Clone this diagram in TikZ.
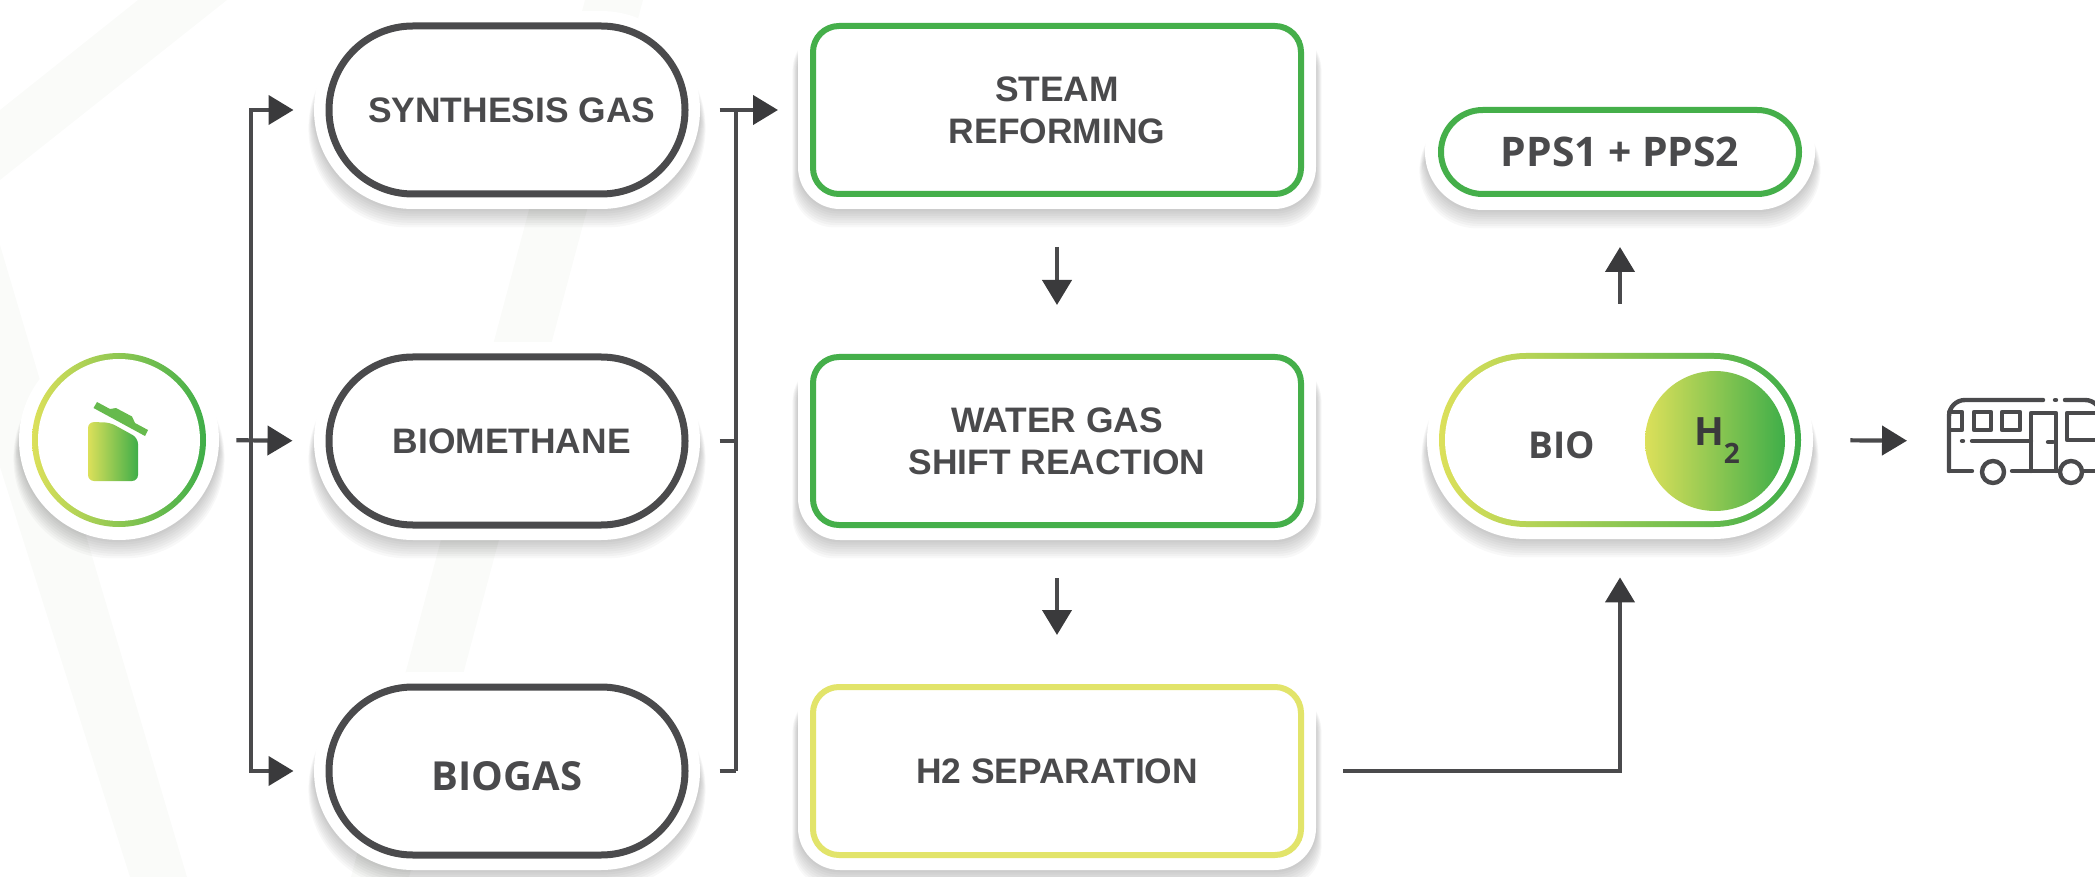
\documentclass[tikz,border=0pt]{standalone}
\usepackage{fontspec}
\setmainfont{Liberation Sans}
\newfontfamily\altf{Open Sans}
\usetikzlibrary{arrows.meta}
\definecolor{ink}{HTML}{4A4A4C}
\definecolor{tip}{HTML}{3A3A3C}
\definecolor{leaf}{HTML}{45AF4A}
\definecolor{lime}{HTML}{E2E46A}
\definecolor{ramp0}{HTML}{DCE05A}
\definecolor{ramp1}{HTML}{3FAE49}
\definecolor{stripe}{HTML}{FAFBF9}
\newcommand{\softshadow}[5]{% cx cy halfw halfh radius (outer halo)
  \foreach \k in {1,...,8}{
    \fill[black,opacity=.028,rounded corners=#5*0.5pt]
      ({#1-#3-\k*0.7},{#2-#4+18}) rectangle ({#1+#3+\k*0.7},{#2+#4+\k*2.3});
  }
  \fill[white,rounded corners=#5*0.5pt] ({#1-#3},{#2-#4}) rectangle ({#1+#3},{#2+#4});
}
\tikzset{
  x=0.5pt,y=-0.5pt,
  lbl/.style={font=\fontsize{17.7}{21}\selectfont\bfseries,text=ink,align=center,inner sep=0pt},
  pill/.style={lbl,draw=ink,fill=white,line width=3.5pt,minimum width=178pt,minimum height=84pt,rounded corners=41.9pt},
  procbox/.style={lbl,draw=#1,fill=white,line width=3pt,minimum width=244pt,minimum height=84pt,rounded corners=13pt},
  smallpill/.style={draw=leaf,fill=white,line width=3pt,minimum width=179pt,minimum height=42pt,rounded corners=20.9pt,inner sep=0pt,text=ink},
  rampfill/.style={left color=ramp0,right color=ramp1,draw=none},
  flow/.style={draw=ink,line width=2.1pt,-{Triangle[length=12.5pt,width=14.5pt,color=tip]}},
  plain/.style={draw=ink,line width=2.1pt},
  busline/.style={draw=ink,line width=2.2pt,line cap=round,line join=round},
}
\begin{document}
\begin{tikzpicture}
\useasboundingbox (0,0) rectangle (2095,877);
\clip (0,0) rectangle (2095,877);
% faint background stripes
\fill[stripe] (138,0) -- (227,0) -- (0,180) -- (0,110) -- cycle;
\fill[stripe] (585,0) -- (643,0) -- (409,877) -- (351,877) -- cycle;
\fill[stripe] (0,245) -- (187,877) -- (130,877) -- (0,467) -- cycle;
% shadows and halos
\softshadow{119}{440}{100}{100}{100}
\softshadow{507}{110}{193}{99}{99}
\softshadow{507}{441}{193}{99}{99}
\softshadow{507}{771}{193}{99}{99}
\softshadow{1057}{110}{259}{99}{42}
\softshadow{1057}{441}{259}{99}{42}
\softshadow{1057}{771}{259}{99}{42}
\softshadow{1620}{152}{195}{58}{58}
\softshadow{1620}{440}{193}{99}{99}
% source disc with gradient ring
\node[circle,rampfill,minimum size=87pt,inner sep=0pt] (binring) at (119,440) {};
\node[circle,fill=white,minimum size=81pt,inner sep=0pt] (bin) at (119,440) {};
\shade[left color=ramp0,right color=ramp1,rounded corners=3pt]
  (88,422) -- (110,422.5) -- (138,438) -- (138,481) -- (88,481) -- cycle;
\fill[ramp1!75!ramp0,line join=round]
  (93.5,408) -- (97,402) -- (110,409) -- (116,408) -- (132,416.5) -- (135,423) -- (148,430) -- (145,436) -- cycle;
% gas pills
\node[pill] (syn) at (507,110) {\hspace*{4.7pt}SYNTHESIS GAS};
\node[pill] (bio) at (507,441) {\hspace*{4.7pt}BIOMETHANE};
\node[pill,font=\altf\fontsize{20}{24}\selectfont\bfseries] (gas) at (507,771) {\raisebox{-9.6pt}[0pt][0pt]{BIOGAS}};
% process boxes
\node[procbox=leaf] (steam) at (1057,110) {STEAM\\REFORMING};
\node[procbox=leaf] (shift) at (1057,441) {WATER GAS\\SHIFT REACTION};
\node[procbox=lime] (sep) at (1057,771) {H2 SEPARATION};
% products
\node[smallpill,font=\altf\fontsize{20.4}{24}\selectfont\bfseries] (pps) at (1620,152) {PPS1 + PPS2};
\node[rampfill,minimum width=181pt,minimum height=87pt,rounded corners=43.4pt,inner sep=0pt] (bioring) at (1620,440) {};
\node[fill=white,minimum width=175pt,minimum height=81pt,rounded corners=40.4pt,inner sep=0pt] (biofuel) at (1620,440) {};
\node[text=ink,font=\altf\fontsize{18.5}{22}\selectfont\bfseries,inner sep=0pt] (biotxt) at (1562,445) {BIO};
\node[circle,rampfill,minimum size=70pt,inner sep=0pt,text=tip,font=\altf\fontsize{19.5}{23}\selectfont\bfseries] (hydro) at (1715,441)
  {\hspace*{2pt}H\raisebox{-9pt}{\fontsize{14}{16}\selectfont 2}};
% bus icon
\coordinate (bus) at (1947,441);
\begin{scope}[busline]
  \draw (1949,471) -- (1949,416) arc[start angle=180,end angle=90,radius=8pt] -- (2043,400);
  \draw (2055,400) -- (2056,400);
  \draw (2065,400) -- (2085,400) arc[start angle=90,end angle=0,radius=8pt] -- (2101,471);
  \draw (1949,471) -- (1972,471);
  \draw (2012,471) -- (2060,471);
  \draw (2082,471) -- (2101,471);
  \draw (1993,472) circle[radius=5.5pt];
  \draw (2071,472) circle[radius=5.5pt];
  \draw (1949,412) rectangle (1962,430);
  \draw (1974,412) rectangle (1991,430);
  \draw (2002,412) rectangle (2020,430);
  \draw (2031,471) -- (2031,413) -- (2056,413) -- (2056,471);
  \draw (2048,442) -- (2053,442);
  \draw (2101,413) -- (2067,413) -- (2067,440) -- (2101,440);
  \draw (1962,441) -- (1963,441);
  \draw (1972,441) -- (2031,441);
\end{scope}
% connectors
\coordinate (ltrunk) at (251,441);
\coordinate (rtrunk) at (736,441);
\draw[plain] (ltrunk |- syn) -- (ltrunk |- gas);
\draw[flow,shorten >=16pt] (ltrunk) |- (syn.west);
\draw[flow,shorten >=16pt] (ltrunk) |- (gas.west);
\draw[flow,shorten <=15pt,shorten >=16.5pt] (binring.east) -- (bio.west);
\draw[plain] (rtrunk |- syn) -- (rtrunk |- gas);
\draw[plain,shorten <=15.5pt] (gas.east) -- (rtrunk |- gas);
\draw[plain,shorten <=15.5pt] (bio.east) -- (rtrunk);
\draw[flow,shorten <=15.5pt,shorten >=16pt] (syn.east) -- (steam.west);
\draw[flow,shorten <=25pt,shorten >=24.5pt] (steam.south) -- (shift.north);
\draw[flow,shorten <=25pt,shorten >=24.5pt] (shift.south) -- (sep.north);
\draw[flow,shorten <=19.5pt,shorten >=25pt] (sep.east) -- (1620,771) -- (bioring.south);
\draw[flow,shorten <=24.5pt,shorten >=25pt] (bioring.north) -- (pps.south);
\draw[flow,shorten <=24.5pt,shorten >=20pt] (bioring.east) -- (bus);
\end{tikzpicture}
\end{document}
